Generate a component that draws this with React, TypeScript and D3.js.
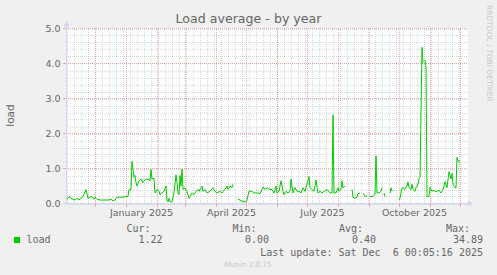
import React from 'react';
import * as d3 from 'd3';

// time window (400 days ending at last update)
const START = new Date(2024, 10, 1, 0, 5, 16);
const END = new Date(2025, 11, 6, 0, 5, 16);

// day offsets from START and load values (null = no data)
const dayOffsets = [
  2, 4, 6, 8, 10, 12, 14, 16, 18, 21, 23, 25, 27, 29, 30, 32, 35, 38, 41, 44, 46, 48, 50, 52, 55, 58, 61, 63, 64, 66, 67, 69, 70, 71, 72, 74,
  76, 78, 80, 83, 85, 86, 87, 89, 90, 92, 94, 95, 97, 99, 101, 102, 103, 104, 105, 107, 109, 111, 112, 113, 114, 115, 116, 117, 118, 120, 121, 122,
  124, 125, 127, 129, 131, 133, 134, 136, 137, 138, 140, 142, 145, 148, 150, 152, 155, 157, 158, 160, 162, 163, 165, 167, 168, 169,
  173, 175, 178, 181, 182, 184, 187, 189, 191, 193, 195, 198, 200, 202, 205, 207, 209, 211, 212, 214, 216, 218, 219, 221, 223, 225, 226, 228,
  230, 232, 234, 236, 238, 240, 242, 244, 245, 247, 249, 251, 253, 255, 257, 259, 262, 265, 267, 268, 269, 271, 273, 274, 276, 277, 278, 280, 281,
  287, 288, 290, 292, 293, 295, 296, 298, 300, 302, 303, 305, 308, 310, 311, 312, 314, 316, 317, 318, 319, 320, 321, 325, 326, 327, 328,
  334, 335, 337, 338, 340, 342, 343, 344, 346, 347, 348, 350, 351, 353, 354, 355, 357, 358, 359, 360, 361, 362, 363, 364, 365, 367, 368,
  370, 372, 374, 376, 378, 380, 382, 384, 386, 387, 388, 390, 391, 392, 393, 395, 397, 398, 399, 400,
];
const loadValues: (number | null)[] = [
  0.12, 0.2, 0.15, 0.12, 0.1, 0.15, 0.1, 0.15, 0.2, 0.4, 0.15, 0.18, 0.2, 0.12, 0.18, 0.12, 0.1, 0.1, 0.1, 0.1, 0.12, 0.08, 0.1, 0.18, 0.18, 0.18, 0.2, 0.2, 0.4, 0.4, 1.2, 0.75, 0.8, 0.6, 0.5, 0.65,
  0.7, 0.6, 0.68, 0.7, 0.65, 0.97, 0.7, 0.72, 0.3, 0.4, 0.35, 0.25, 0.3, 0.35, 0.5, 0.1, 0.05, 0.15, 0.05, 0.05, 0.3, 0.82, 0.6, 0.3, 0.25, 0.8, 0.5, 0.98, 0.4, 0.45, 0.38, 0.35,
  0.15, 0.2, 0.3, 0.25, 0.35, 0.4, 0.35, 0.45, 0.5, 0.35, 0.4, 0.3, 0.35, 0.45, 0.35, 0.3, 0.35, 0.3, 0.35, 0.4, 0.5, 0.4, 0.5, 0.45, 0.55, null,
  0.12, 0.1, 0.05, 0.05, 0.1, 0.35, 0.35, 0.3, 0.3, 0.3, 0.28, 0.47, 0.4, 0.45, 0.4, 0.4, 0.3, 0.5, 0.3, 0.35, 0.65, 0.35, 0.25, 0.35, 0.3, 0.35, 0.7, 0.3,
  0.45, 0.35, 0.35, 0.3, 0.45, 0.35, 0.55, 0.77, 0.45, 0.4, 0.35, 0.67, 0.3, 0.35, 0.3, 0.35, 0.4, 0.3, 0.3, 2.53, 0.3, 0.3, 0.45, 0.35, 0.4, 0.65, 0.45, 0.5, null,
  0.4, 0.18, 0.15, 0.18, 0.28, 0.3, null, 0.3, 0.2, 0.22, null, 0.2, 0.2, 0.28, 1.36, 0.3, 0.3, 0.35, 0.45, null, 0.3, 0.2, null, 0.3, 0.45, 0.35, null,
  0.1, 0.15, 0.45, 0.45, 0.4, 0.5, 0.62, 0.45, 0.4, 0.55, 0.4, 0.35, 0.45, 0.55, 0.7, 0.75, 4.46, 4.0, null, 4.1, 3.9, 0.2, 0.2,
  0.2, 0.46, 0.35, 0.38, 0.35, 0.35, 0.38, 0.3, 0.4, 0.62, 0.45, 0.91, 0.7, 0.86, 0.55, 0.45, 0.45, 1.32, 1.2, 1.22,
];

const yMajorTicks = [0, 1, 2, 3, 4, 5];
const yMinorTicks = d3.range(0, 5.0001, 0.2);
const xLabelMonths = [new Date(2025, 0, 1), new Date(2025, 3, 1), new Date(2025, 6, 1), new Date(2025, 9, 1)];
const xLabelTexts = ['January 2025', 'April 2025', 'July 2025', 'October 2025'];

const legendName = 'load';
const legendHeaders = ['Cur:', 'Min:', 'Avg:', 'Max:'];
const legendValues = ['1.22', '0.00', '0.40', '34.89'];
const lastUpdate = 'Last update: Sat Dec  6 00:05:16 2025';

const W = 497;
const H = 275;
const FONT = 'DejaVu Sans, sans-serif';
const MONO = 'DejaVu Sans Mono, monospace';
const TXT = '#666666';
const AXIS = '#CFD6F8';
const GRID = 'rgba(143,143,143,0.32)';
const MGRID = 'rgba(222,79,79,0.45)';

export default function App() {
  const x = d3.scaleTime().domain([START, END]).range([65.5, 465.5]);
  const y = d3.scaleLinear().domain([0, 5]).range([203.5, 28.5]);
  const left = 66;
  const right = 468;

  const data = dayOffsets.map((d, i) => ({ t: new Date(START.getTime() + d * 86400000 - 43200000), v: loadValues[i] }));
  const line = d3
    .line<{ t: Date; v: number | null }>()
    .defined((d) => d.v !== null)
    .x((d) => x(d.t))
    .y((d) => y(d.v as number));

  const weeks = d3.timeSunday.range(START, END);
  const months = d3.timeMonth.range(START, END);

  const legendHeaderX = [150.5, 256.5, 363, 470];
  const legendValueX = [162.5, 269, 376, 483];

  return (
    <svg width={W} height={H} style={{ position: 'absolute', left: 0, top: 0 }}>
      <rect x={0} y={0} width={W} height={H} fill="#F0F0F0" />
      <rect x={left} y={28} width={right - left} height={176} fill="#FFFFFF" />
      {/* minor grid */}
      {yMinorTicks.map((t, i) => (
        <line key={'hy' + i} x1={left} x2={right} y1={Math.round(y(t)) + 0.5} y2={Math.round(y(t)) + 0.5} stroke={GRID} strokeDasharray="1,1" />
      ))}
      {weeks.map((w, i) => (
        <line key={'wx' + i} x1={Math.floor(x(w)) + 0.5} x2={Math.floor(x(w)) + 0.5} y1={28} y2={204} stroke={GRID} strokeDasharray="1,1" />
      ))}
      {/* major grid */}
      {yMajorTicks.map((t, i) => (
        <line key={'my' + i} x1={left} x2={right} y1={Math.floor(y(t)) + 0.5} y2={Math.floor(y(t)) + 0.5} stroke={MGRID} strokeDasharray="1,1" />
      ))}
      {months.map((m, i) => (
        <g key={'mx' + i}>
          <line x1={Math.floor(x(m)) + 0.5} x2={Math.floor(x(m)) + 0.5} y1={28} y2={204} stroke={MGRID} strokeDasharray="1,1" />
          <line x1={Math.floor(x(m)) + 0.5} x2={Math.floor(x(m)) + 0.5} y1={204} y2={207} stroke={MGRID} />
        </g>
      ))}
      {yMajorTicks.map((t, i) => (
        <line key={'yt' + i} x1={63} x2={66} y1={Math.floor(y(t)) + 0.5} y2={Math.floor(y(t)) + 0.5} stroke={MGRID} />
      ))}
      {/* axes */}
      <line x1={66.5} x2={66.5} y1={204} y2={25} stroke={AXIS} />
      <line x1={63} x2={469} y1={203.5} y2={203.5} stroke={AXIS} />
      <path d="M66.5,20.5 L63.5,26.5 L69.5,26.5 Z" fill={AXIS} />
      <path d="M473.5,203.5 L467.5,200.5 L467.5,206.5 Z" fill={AXIS} />
      {/* data */}
      <path d={line(data) || ''} fill="none" stroke="#00CC00" strokeWidth={1} strokeLinejoin="round" />
      {/* y labels */}
      {yMajorTicks.map((t, i) => (
        <text key={'yl' + i} x={60.5} y={y(t) + 3.4} textAnchor="end" fontFamily={FONT} fontSize={9.5} fill={TXT}>
          {t.toFixed(1)}
        </text>
      ))}
      {/* x labels */}
      {xLabelMonths.map((m, i) => (
        <text key={'xl' + i} x={x(d3.timeDay.offset(m, 15))} y={215.5} textAnchor="middle" fontFamily={FONT} fontSize={9.5} fill={TXT}>
          {xLabelTexts[i]}
        </text>
      ))}
      {/* title */}
      <text x={W / 2} y={22.5} textAnchor="middle" fontFamily={FONT} fontSize={12.6} fill={TXT}>
        Load average - by year
      </text>
      {/* y axis title */}
      <text transform="translate(13.5,115.5) rotate(-90)" textAnchor="middle" fontFamily={FONT} fontSize={10.5} fill={TXT}>
        load
      </text>
      {/* watermark */}
      <text transform="translate(486.5,5) rotate(90)" textAnchor="start" fontFamily={FONT} fontSize={7.5} fill="#C8C8C8">
        RRDTOOL / TOBI OETIKER
      </text>
      {/* legend */}
      <rect x={14} y={237} width={6} height={6} fill="#00CC00" />
      {legendHeaders.map((h, i) => (
        <text key={'lh' + i} x={legendHeaderX[i]} y={231.5} textAnchor="end" fontFamily={MONO} fontSize={10} fill={TXT}>
          {h}
        </text>
      ))}
      <text x={26.5} y={243.3} fontFamily={MONO} fontSize={10} fill={TXT}>
        {legendName}
      </text>
      {legendValues.map((v, i) => (
        <text key={'lv' + i} x={legendValueX[i]} y={243.3} textAnchor="end" fontFamily={MONO} fontSize={10} fill={TXT}>
          {v}
        </text>
      ))}
      <text x={483} y={255.7} textAnchor="end" fontFamily={MONO} fontSize={10} fill={TXT} style={{ whiteSpace: 'pre' }}>
        {lastUpdate}
      </text>
      <text x={248} y={266.5} textAnchor="middle" fontFamily={FONT} fontSize={7.3} fill="#C8C8C8">
        Munin 2.0.75
      </text>
    </svg>
  );
}
